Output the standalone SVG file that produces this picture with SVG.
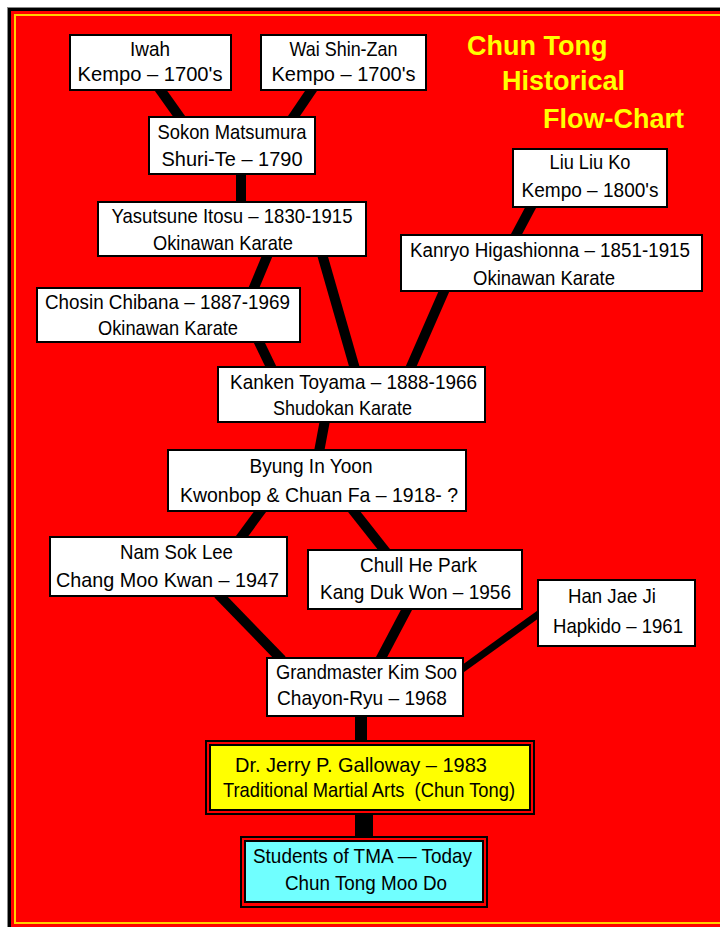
<svg xmlns="http://www.w3.org/2000/svg" width="720" height="927" viewBox="0 0 720 927">
<style>
.box{fill:#fff;stroke:#000;stroke-width:2}
.t{font-family:"Liberation Sans",Arial,sans-serif;font-size:21px;fill:#000;text-anchor:middle}
.title{font-family:"Liberation Sans",Arial,sans-serif;font-size:27px;font-weight:bold;fill:#ffff00}
.c{stroke:#000;stroke-width:10;fill:none}
</style>
<rect x="0" y="0" width="720" height="927" fill="#fff"/>
<rect x="7" y="7" width="720" height="927" fill="#888"/>
<rect x="8" y="8" width="720" height="927" fill="#000"/>
<rect x="11" y="11" width="720" height="927" fill="#ff0000"/>
<rect x="15" y="15" width="800" height="908" fill="none" stroke="#ffd000" stroke-width="2"/>
<g id="title">
<text class="title" x="467" y="55">Chun Tong</text>
<text class="title" x="502" y="90">Historical</text>
<text class="title" x="543" y="128">Flow-Chart</text>
</g>
<g id="connectors">
<line class="c" x1="159" y1="88" x2="181" y2="119"/>
<line class="c" x1="313" y1="88" x2="292" y2="119"/>
<line class="c" x1="241" y1="172" x2="241" y2="204"/>
<line class="c" x1="268" y1="254" x2="253" y2="290"/>
<line class="c" x1="258" y1="340" x2="272" y2="369"/>
<line class="c" x1="322" y1="254" x2="355" y2="369"/>
<line class="c" x1="532" y1="205" x2="515" y2="237"/>
<line class="c" x1="445" y1="289" x2="410" y2="369"/>
<line class="c" x1="325" y1="420" x2="319" y2="452"/>
<line class="c" x1="262" y1="509" x2="240" y2="539"/>
<line class="c" x1="352" y1="509" x2="386" y2="552"/>
<line class="c" x1="218" y1="594" x2="282" y2="660"/>
<line class="c" x1="408" y1="607" x2="380" y2="660"/>
<line class="c" style="stroke-width:7" x1="540" y1="613" x2="461" y2="670"/>
<line class="c" style="stroke-width:12" x1="361" y1="714" x2="361" y2="742"/>
<line class="c" style="stroke-width:18" x1="364" y1="813" x2="364" y2="838"/>
</g>
<g id="iwah"><rect class="box" x="70" y="35" width="161" height="55"/>
<text class="t" x="150" y="56" textLength="40" lengthAdjust="spacingAndGlyphs">Iwah</text>
<text class="t" x="150" y="81" textLength="145" lengthAdjust="spacingAndGlyphs">Kempo – 1700's</text></g>
<g id="wai"><rect class="box" x="261" y="35" width="165" height="55"/>
<text class="t" x="343.5" y="56" textLength="108" lengthAdjust="spacingAndGlyphs">Wai Shin-Zan</text>
<text class="t" x="343.5" y="81" textLength="144" lengthAdjust="spacingAndGlyphs">Kempo – 1700's</text></g>
<g id="sokon"><rect class="box" x="149" y="117" width="166" height="57"/>
<text class="t" x="232" y="139" textLength="149" lengthAdjust="spacingAndGlyphs">Sokon Matsumura</text>
<text class="t" x="232" y="166" textLength="141" lengthAdjust="spacingAndGlyphs">Shuri-Te – 1790</text></g>
<g id="liu"><rect class="box" x="513" y="149" width="154" height="58"/>
<text class="t" x="590" y="169" textLength="81" lengthAdjust="spacingAndGlyphs">Liu Liu Ko</text>
<text class="t" x="590" y="197" textLength="137" lengthAdjust="spacingAndGlyphs">Kempo – 1800's</text></g>
<g id="yasutsune"><rect class="box" x="98" y="202" width="268" height="54"/>
<text class="t" x="232" y="223" textLength="241" lengthAdjust="spacingAndGlyphs">Yasutsune Itosu – 1830-1915</text>
<text class="t" x="223" y="250" textLength="140" lengthAdjust="spacingAndGlyphs">Okinawan Karate</text></g>
<g id="kanryo"><rect class="box" x="401" y="235" width="301" height="56"/>
<text class="t" style="font-size:19.5px" x="550" y="257" textLength="280" lengthAdjust="spacingAndGlyphs">Kanryo Higashionna – 1851-1915</text>
<text class="t" x="544" y="285" textLength="142" lengthAdjust="spacingAndGlyphs">Okinawan Karate</text></g>
<g id="chosin"><rect class="box" x="37" y="288" width="263" height="54"/>
<text class="t" x="167.5" y="309" textLength="245" lengthAdjust="spacingAndGlyphs">Chosin Chibana – 1887-1969</text>
<text class="t" x="168" y="335" textLength="140" lengthAdjust="spacingAndGlyphs">Okinawan Karate</text></g>
<g id="kanken"><rect class="box" x="218" y="367" width="267" height="55"/>
<text class="t" x="353.5" y="389" textLength="247" lengthAdjust="spacingAndGlyphs">Kanken Toyama – 1888-1966</text>
<text class="t" x="342.5" y="415" textLength="139" lengthAdjust="spacingAndGlyphs">Shudokan Karate</text></g>
<g id="byung"><rect class="box" x="168" y="450" width="298" height="61"/>
<text class="t" x="311" y="473" textLength="123" lengthAdjust="spacingAndGlyphs">Byung In Yoon</text>
<text class="t" x="319" y="502" textLength="278" lengthAdjust="spacingAndGlyphs">Kwonbop &amp; Chuan Fa – 1918- ?</text></g>
<g id="nam"><rect class="box" x="50" y="537" width="237" height="59"/>
<text class="t" x="176.5" y="559" textLength="113" lengthAdjust="spacingAndGlyphs">Nam Sok Lee</text>
<text class="t" x="167.5" y="587" textLength="223" lengthAdjust="spacingAndGlyphs">Chang Moo Kwan – 1947</text></g>
<g id="chull"><rect class="box" x="308" y="550" width="214" height="59"/>
<text class="t" x="418.5" y="572" textLength="117" lengthAdjust="spacingAndGlyphs">Chull He Park</text>
<text class="t" x="415.5" y="599" textLength="191" lengthAdjust="spacingAndGlyphs">Kang Duk Won – 1956</text></g>
<g id="han"><rect class="box" x="538" y="580" width="157" height="66"/>
<text class="t" x="612" y="603" textLength="88" lengthAdjust="spacingAndGlyphs">Han Jae Ji</text>
<text class="t" x="618" y="633" textLength="130" lengthAdjust="spacingAndGlyphs">Hapkido – 1961</text></g>
<g id="kim"><rect class="box" x="267" y="658" width="196" height="58"/>
<text class="t" x="366.5" y="679" textLength="181" lengthAdjust="spacingAndGlyphs">Grandmaster Kim Soo</text>
<text class="t" x="362" y="705" textLength="170" lengthAdjust="spacingAndGlyphs">Chayon-Ryu – 1968</text></g>
<g id="galloway"><rect x="206" y="741" width="328" height="73" fill="#ff0000" stroke="#000" stroke-width="2"/>
<rect x="210" y="745" width="320" height="65" fill="#ffff00" stroke="#000" stroke-width="2"/>
<text class="t" x="361" y="772" textLength="252" lengthAdjust="spacingAndGlyphs">Dr. Jerry P. Galloway – 1983</text>
<text class="t" x="369" y="797" textLength="292" lengthAdjust="spacingAndGlyphs" xml:space="preserve">Traditional Martial Arts  (Chun Tong)</text></g>
<g id="students"><rect x="241" y="837" width="246" height="70" fill="#ff0000" stroke="#000" stroke-width="2"/>
<rect x="245" y="841" width="238" height="61" fill="#70ffff" stroke="#000" stroke-width="2"/>
<text class="t" x="362.5" y="863" textLength="219" lengthAdjust="spacingAndGlyphs">Students of TMA — Today</text>
<text class="t" x="366" y="890" textLength="162" lengthAdjust="spacingAndGlyphs">Chun Tong Moo Do</text></g>
</svg>
